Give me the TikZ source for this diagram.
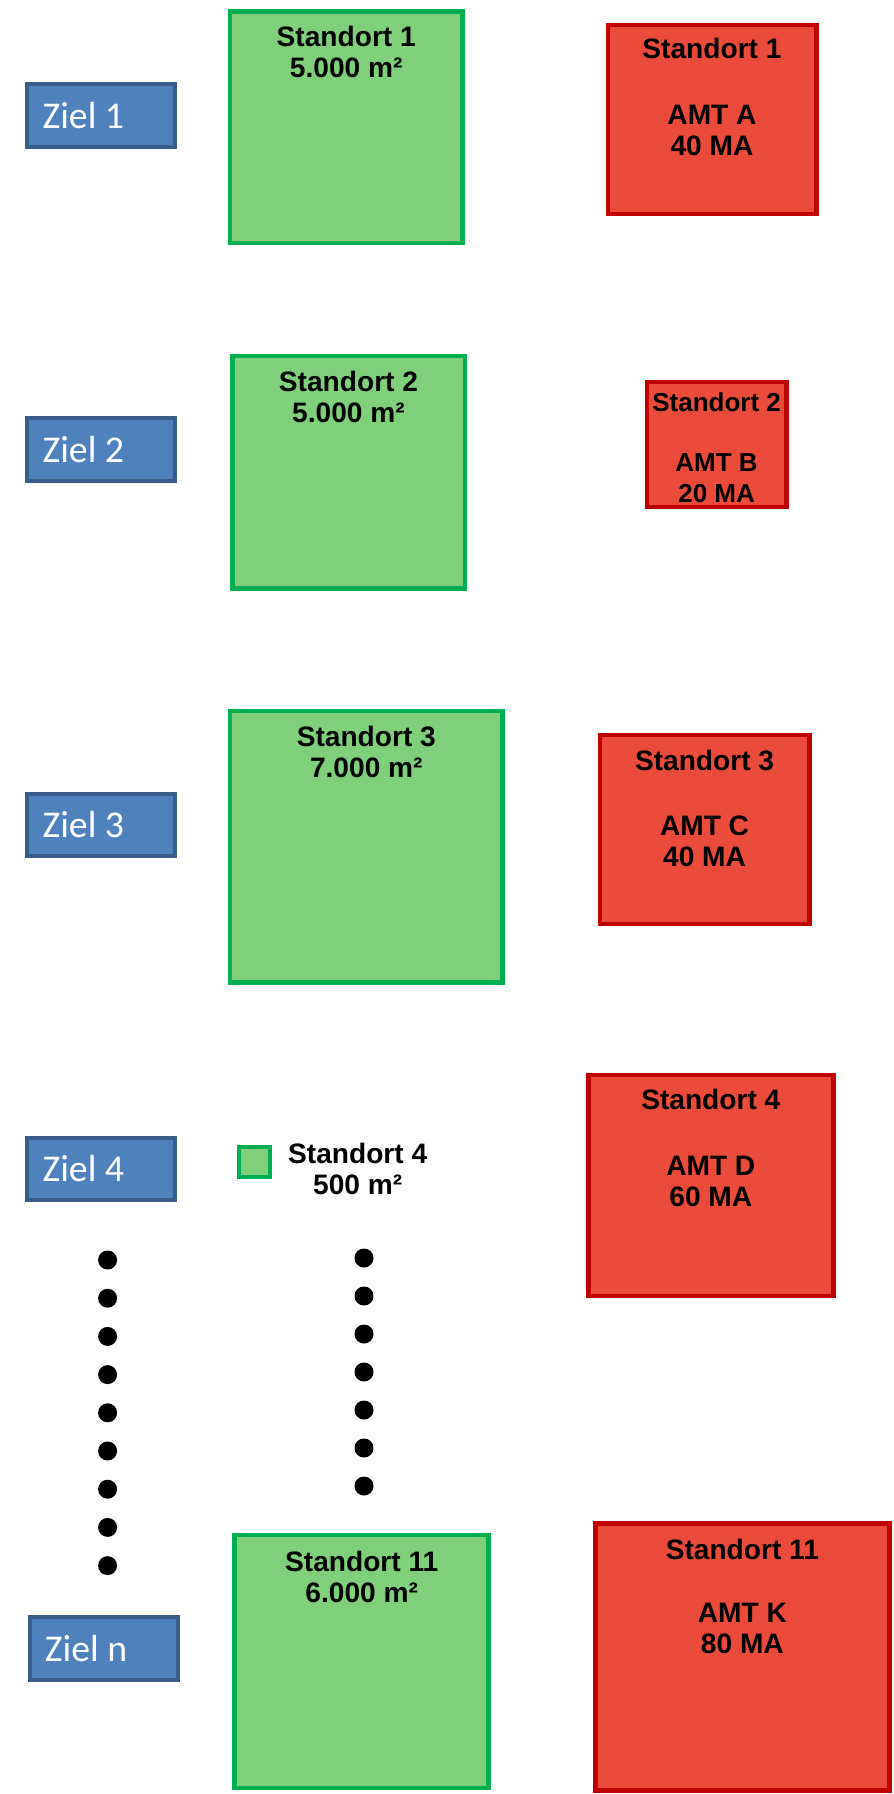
\documentclass[tikz,border=0pt]{standalone}
\usepackage{fontspec}
\setmainfont{Liberation Sans}
\newfontfamily\zielfont{Carlito}
\usetikzlibrary{positioning}
\definecolor{zielblau}{RGB}{79,129,189}
\definecolor{zielrand}{RGB}{56,93,138}
\definecolor{gruen}{RGB}{128,208,123}
\definecolor{gruenrand}{RGB}{0,176,80}
\definecolor{rot}{RGB}{234,75,59}
\definecolor{rotrand}{RGB}{192,0,0}
\tikzset{
  ziel/.style={draw=zielrand, fill=zielblau, line width=0.08cm, minimum width=2.96cm, minimum height=1.25cm, inner sep=0pt},
  zieltext/.style={text=white, font=\zielfont\fontsize{21.5}{25}\selectfont, inner sep=0pt},
  flaeche/.style={draw=gruenrand, fill=gruen, line width=0.09cm, inner sep=0pt},
  amt/.style={draw=rotrand, fill=rot, line width=0.09cm, inner sep=0pt},
  beschriftung/.style={font=\bfseries\fontsize{16}{17.6}\selectfont, align=center, inner sep=0pt},
}
\begin{document}
\begin{tikzpicture}
  % Rahmen
  \useasboundingbox (0,0) rectangle (17.88,-35.88);
  % Ziele
  \node[ziel] (z1) at (2.026,-2.312) {};
  \node[zieltext, right=0.34cm of z1.west] (z1t) {Ziel 1};
  \node[ziel] (z2) at (2.026,-8.986) {};
  \node[zieltext, right=0.34cm of z2.west] (z2t) {Ziel 2};
  \node[ziel] (z3) at (2.026,-16.495) {};
  \node[zieltext, right=0.34cm of z3.west] (z3t) {Ziel 3};
  \node[ziel] (z4) at (2.026,-23.375) {};
  \node[zieltext, right=0.34cm of z4.west] (z4t) {Ziel 4};
  \node[ziel] (zn) at (2.072,-32.967) {};
  \node[zieltext, right=0.34cm of zn.west] (znt) {Ziel n};
  % Flaechen der Standorte
  \node[flaeche, minimum width=4.65cm, minimum height=4.63cm] (g1) at (6.925,-2.542) {};
  \node[beschriftung, below=0.34cm of g1.north] (g1t) {Standort 1\\5.000 m²};
  \node[flaeche, minimum width=4.65cm, minimum height=4.65cm] (g2) at (6.97,-9.444) {};
  \node[beschriftung, below=0.34cm of g2.north] (g2t) {Standort 2\\5.000 m²};
  \node[flaeche, minimum width=5.45cm, minimum height=5.43cm] (g3) at (7.326,-16.93) {};
  \node[beschriftung, below=0.34cm of g3.north] (g3t) {Standort 3\\7.000 m²};
  \node[flaeche, minimum width=0.62cm, minimum height=0.6cm] (g4) at (5.094,-23.237) {};
  \node[beschriftung, anchor=north] (g4t) at (7.154,-22.85) {Standort 4\\500 m²};
  \node[flaeche, minimum width=5.08cm, minimum height=5.06cm] (g11) at (7.234,-33.231) {};
  \node[beschriftung, below=0.36cm of g11.north] (g11t) {Standort 11\\6.000 m²};
  % Aemter
  \node[amt, minimum width=4.17cm, minimum height=3.78cm] (r1) at (14.24,-2.392) {};
  \node[beschriftung, below=0.3cm of r1.north] (r1t) {Standort 1\\[0.7cm]AMT A\\40 MA};
  \node[amt, minimum width=2.79cm, minimum height=2.5cm] (r2) at (14.332,-8.894) {};
  \node[beschriftung, font=\bfseries\fontsize{14.8}{17.6}\selectfont, below=0.25cm of r2.north] (r2t) {Standort 2\\[0.58cm]AMT B\\20 MA};
  \node[amt, minimum width=4.19cm, minimum height=3.78cm] (r3) at (14.091,-16.586) {};
  \node[beschriftung, below=0.34cm of r3.north] (r3t) {Standort 3\\[0.68cm]AMT C\\40 MA};
  \node[amt, minimum width=4.9cm, minimum height=4.42cm] (r4) at (14.216,-23.706) {};
  \node[beschriftung, below=0.32cm of r4.north] (r4t) {Standort 4\\[0.7cm]AMT D\\60 MA};
  \node[amt, minimum width=5.88cm, minimum height=5.34cm] (r11) at (14.847,-33.14) {};
  \node[beschriftung, below=0.36cm of r11.north] (r11t) {Standort 11\\[0.64cm]AMT K\\80 MA};
  % Punkte
  \foreach \i in {0,...,8}
    \fill (2.152,-25.2-0.764*\i) circle (0.19);
  \foreach \i in {0,...,6}
    \fill (7.28,-25.16-0.76*\i) circle (0.19);
\end{tikzpicture}
\end{document}
